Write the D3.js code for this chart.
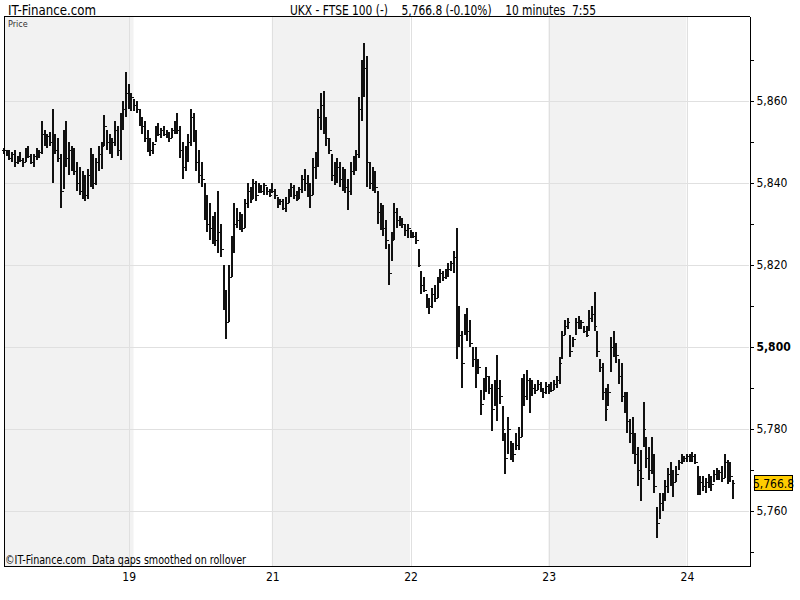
<!DOCTYPE html>
<html>
<head>
<meta charset="utf-8">
<script src="https://cdn.jsdelivr.net/npm/d3@7"></script>
<style>
  body { margin: 0; background: #fff; }
  svg text { font-family: 'Liberation Sans Narrow', 'Arial Narrow', 'DejaVu Sans Condensed', sans-serif; }
</style>
</head>
<body>
<svg id="chart" width="800" height="600"></svg>
<script>
// day labels and the bar index they sit on
const dayLabels = ["19", "21", "22", "23", "24"];
const tickIdx = [46, 99, 150, 201, 252];
// first bar of each session (18, 19, 21, 22, 23, 24)
const dayStarts = [0, 48, 99, 150, 201, 252, 270];
const priceTicks = [5760, 5780, 5800, 5820, 5840, 5860];
const lastPrice = 5766.8;

// 10 minute bars, [high, low, close]
const d18 = [
  [5848.5,5847,5848],[5848,5846.5,5847],[5848,5845.5,5846],[5847.5,5845,5847],[5848,5844,5845],
  [5846.5,5844.5,5846],[5847.5,5845,5845.5],[5846,5844,5845],[5848.5,5845,5848],[5849,5846,5846.5],
  [5847,5844.5,5845],[5847,5844,5846.5],[5848.5,5845.5,5847],[5848,5846,5847.5],[5855,5847,5852],
  [5853,5849,5850],[5852,5848.5,5851.5],[5852.5,5849,5850],[5858,5840,5850.5],[5852,5847,5848],
  [5851,5845,5846],[5847,5834,5838],[5853,5838.5,5850],[5855,5844,5846],[5850,5842,5848],
  [5849,5843,5845],[5848.5,5842,5843],[5845,5838,5840],[5844,5837,5838],[5843,5836,5840],
  [5842,5835.5,5837],[5843.5,5836,5842],[5848.5,5839,5846],[5847,5838.5,5840],[5846,5839.5,5845],
  [5849,5843,5847],[5850,5843.5,5849],[5856.5,5849,5854],[5853,5848,5850],[5852,5847,5849],
  [5851,5846,5850],[5855,5849,5853],[5854,5846.5,5848],[5857,5845.5,5855],[5860,5853,5858],
  [5867,5856,5862],[5864,5858,5860],[5862,5857.5,5861]
];
const d19 = [
  [5860.5,5857.5,5859],[5860,5857,5858],[5858,5854,5855],[5856,5852,5854],[5855,5850,5851],
  [5853,5847.5,5849],[5851,5846.5,5848],[5850,5847,5849.5],[5854,5850,5853],[5854.5,5851.5,5852],
  [5853.5,5851,5853],[5854,5851.5,5852],[5853,5851,5851.5],[5852.5,5850,5851],[5853.5,5851,5853],
  [5855,5852,5854],[5857,5852,5853],[5854,5846,5848],[5850,5841,5844],[5849,5843,5846],
  [5852,5845,5850],[5858,5849,5856],[5857,5850,5852],[5853,5843,5845],[5848,5840,5842],
  [5845,5839,5841],[5840,5831,5833],[5837,5828,5830],[5835,5826,5829],[5832,5825,5827],
  [5833,5824.5,5826],[5838,5823,5828],[5830,5822,5824],[5820,5809,5812],[5814,5802,5806],
  [5820,5806,5817],[5827,5817,5824],[5835,5823,5830],[5834,5829,5831],[5833,5828.5,5832],
  [5832.5,5828,5829],[5836,5829,5835],[5840,5834,5838],[5839,5835,5836],[5841,5836,5840],
  [5840.5,5835.5,5837],[5840,5837.5,5839],[5839.5,5837.5,5838],[5840,5837,5839.5],[5839,5837,5838],
  [5838.5,5836.5,5837]
];
const d21 = [
  [5840,5837.5,5838],[5838.5,5836,5837],[5836.5,5834,5835],[5836,5834.5,5835.5],[5836,5833.5,5834],
  [5836.5,5833,5835],[5838.5,5835,5837.5],[5840,5836.5,5839],[5839.5,5836,5837],[5838,5835.5,5836],
  [5839,5836,5838.5],[5842,5837.5,5841],[5843.5,5838,5840],[5842,5836.5,5838],[5840,5834,5837],
  [5846,5837,5844],[5847.5,5841,5845],[5858,5844,5856],[5862,5853,5859],[5862.5,5852,5855],
  [5856,5849,5851],[5851,5847,5848],[5847,5840.5,5842],[5845,5839.5,5843],[5846,5840,5844],
  [5845,5839,5841],[5844,5838,5842],[5843.5,5837.5,5839],[5841,5833.5,5838],[5845,5837,5843],
  [5846.5,5842,5845],[5848,5843,5847],[5861,5846,5858],[5870,5855,5862],[5874,5861,5868],
  [5871,5839,5845],[5845,5838.5,5840],[5844,5838,5842],[5843,5837.5,5839],[5838,5830,5833],
  [5835,5828.5,5830],[5834.5,5827,5829],[5831,5824,5826],[5825,5815,5818],[5828,5821,5826],
  [5835,5826,5833],[5834,5829,5831],[5832,5829.5,5830.5],[5831.5,5829,5830],[5830,5827,5828.5],
  [5830,5826.5,5829]
];
const d22 = [
  [5828.5,5826.5,5828],[5828,5826.5,5827],[5828,5825,5826],[5824,5819.5,5820],[5818.5,5813,5815],
  [5817,5813.5,5814],[5813,5809.5,5811],[5812,5808,5810],[5814.5,5809.5,5813],[5815,5811,5812],
  [5817,5812,5816],[5819,5815.5,5818],[5818.5,5816,5817],[5819,5816.5,5818.5],[5820.5,5817,5819],
  [5821,5818.5,5820.5],[5823.5,5818,5822],[5829,5797,5802],[5810,5800,5803],[5804,5790,5796],
  [5808,5803,5806],[5809.5,5801.5,5804],[5806.5,5800,5801],[5800,5795,5797],[5800,5790,5794],
  [5797,5793.5,5795],[5789.5,5783.5,5786],[5792.5,5787,5790],[5795,5789,5793],[5793,5788.5,5790],
  [5791,5779.5,5785],[5792,5785.5,5789],[5798,5782,5790],[5792,5786,5788],[5785.5,5777,5780],
  [5779,5769,5773],[5783,5774,5780],[5777,5772.5,5775],[5776.5,5772,5774],[5779,5775,5776],
  [5780.5,5775,5778],[5792.5,5778,5790],[5793.5,5785.5,5788],[5794.5,5787,5792],[5792.5,5784,5789],
  [5792,5788,5790],[5791,5788.5,5789.5],[5792,5789.5,5791],[5791.5,5789,5790],[5790,5787.5,5789],
  [5791.5,5788.5,5790.5]
];
const d23 = [
  [5791,5788.5,5790],[5791.5,5789,5789.5],[5792,5789.5,5791],[5793,5790,5792],[5797.5,5791,5796],
  [5804,5797,5803],[5806.5,5803,5805],[5807,5804.5,5806],[5803,5797.5,5799],[5802.5,5800,5802],
  [5807,5803,5806],[5807.5,5804.5,5805],[5806.5,5804.5,5806],[5805,5803.5,5804],[5805,5802.5,5803],
  [5809,5804,5807],[5810,5806,5808],[5813.5,5804,5805],[5804,5797.5,5799],[5797,5794,5795],
  [5796,5787,5789],[5790,5782,5785],[5791,5785.5,5789],[5802.5,5794,5800],[5804,5797.5,5801],
  [5801,5796,5798],[5797,5791,5793],[5796,5786.5,5788],[5789,5784,5786],[5789,5779,5782],
  [5782.5,5776.5,5779],[5783,5774,5777],[5779,5771.5,5774],[5775.5,5766,5770],[5775,5762.5,5768],
  [5786.5,5775.5,5780],[5778,5770.5,5773],[5775.5,5767.5,5770],[5778,5769,5772],[5774,5764.5,5766],
  [5761,5753.5,5757],[5764.5,5758,5762],[5764.5,5760,5763],[5767.5,5762.5,5766],[5770.5,5764.5,5769],
  [5772,5766,5768],[5770,5763.5,5767],[5771,5767,5769],[5772.5,5770,5772],[5774,5771.5,5773],
  [5773.5,5772,5773]
];
const d24 = [
  [5774,5772,5773.5],[5774,5772,5772.5],[5774.5,5772,5773.5],[5774,5771.5,5772],[5771,5764,5765],
  [5768.5,5764,5767],[5768.5,5765,5766],[5768,5764.5,5767],[5769,5765.5,5768],[5768.5,5765,5766.5],
  [5770,5767,5769],[5770.5,5767.5,5768.5],[5770,5767.5,5769.5],[5771,5767,5768],[5774,5768,5772],
  [5772.5,5766.5,5768],[5772,5767,5768.5],[5767.5,5763,5766.8]
];

const raw = [].concat(d18, d19, d21, d22, d23, d24);
// open of each bar is the close of the bar before
const bars = raw.map((b, i) => ({
  i: i, hi: b[0], lo: b[1], close: b[2], open: i ? raw[i - 1][2] : b[2]
}));

const plotL = 4, plotR = 749, plotT = 16, plotB = 566;
const svg = d3.select('#chart');

const x = d3.scaleLinear().domain([0, 270]).range([plotL, 735.7]);
const y = d3.scaleLinear().domain([5746.6, 5880.7]).range([plotB, plotT]);
const px = v => Math.round(v) + 0.5;

// shaded sessions: 18, 21, 23
[0, 2, 4].forEach(d => {
  const x0 = Math.max(plotL, x(dayStarts[d] - 0.2));
  const x1 = x(dayStarts[d + 1] - 0.2);
  svg.append('rect')
    .attr('x', x0).attr('y', plotT)
    .attr('width', x1 - x0).attr('height', plotB - plotT)
    .attr('fill', '#f2f2f2');
});

// grid
svg.append('g').selectAll('line').data(priceTicks).join('line')
  .attr('x1', plotL).attr('x2', plotR)
  .attr('y1', d => px(y(d))).attr('y2', d => px(y(d)))
  .attr('stroke', '#e0e0e0');
svg.append('g').selectAll('line').data(tickIdx).join('line')
  .attr('x1', d => px(x(d))).attr('x2', d => px(x(d)))
  .attr('y1', plotT).attr('y2', plotB)
  .attr('stroke', '#e0e0e0');

// OHLC bars: 2px stems, 1px open/close ticks
const stems = bars.map(b => {
  const bx = Math.round(x(b.i));
  const yh = Math.round(y(b.hi));
  let yl = Math.round(y(b.lo));
  if (yl - yh < 1) yl = yh + 1;
  return `M${bx},${yh}V${yl}`;
}).join('');
const ticks = bars.map(b => {
  const bx = Math.round(x(b.i));
  const yo = px(y(b.open)), yc = px(y(b.close));
  return `M${bx - 2},${yo}H${bx}M${bx},${yc}H${bx + 2}`;
}).join('');
svg.append('path')
  .attr('d', stems)
  .attr('fill', 'none')
  .attr('stroke', '#111')
  .attr('stroke-width', 2)
  .attr('shape-rendering', 'crispEdges');
svg.append('path')
  .attr('d', ticks)
  .attr('fill', 'none')
  .attr('stroke', '#111')
  .attr('stroke-width', 1)
  .attr('shape-rendering', 'crispEdges');

// frame
svg.append('path')
  .attr('d', `M${plotR + 0.5},${plotT + 0.5}H${plotL + 0.5}V${plotB + 0.5}H${plotR + 0.5}`)
  .attr('fill', 'none').attr('stroke', '#000')
  .attr('shape-rendering', 'crispEdges');

// right price axis, labels on every 20, small ticks every 10
const yAxis = svg.append('g')
  .attr('transform', `translate(${plotR + 0.5},0)`)
  .call(d3.axisRight(y)
    .tickValues(d3.range(5750, 5871, 10))
    .tickSize(4).tickSizeOuter(0).tickPadding(3)
    .tickFormat(v => v % 20 === 0 ? d3.format(',')(v) : ''));
yAxis.selectAll('text')
  .attr('font-size', 12)
  .attr('fill', '#000')
  .attr('font-weight', d => d === 5800 ? 'bold' : 'normal');
yAxis.selectAll('line').attr('stroke', '#000').attr('shape-rendering', 'crispEdges');
yAxis.select('.domain').attr('stroke', '#000').attr('shape-rendering', 'crispEdges');

// day axis
const xAxis = svg.append('g')
  .attr('transform', `translate(0,${plotB})`)
  .call(d3.axisBottom(x).tickValues(tickIdx).tickSize(0).tickPadding(6)
    .tickFormat((d, i) => dayLabels[i]));
xAxis.select('.domain').remove();
xAxis.selectAll('text').attr('font-size', 12).attr('fill', '#000');

// last price box
const ly = y(lastPrice);
svg.append('rect')
  .attr('x', 754.5).attr('y', Math.round(ly) - 7.5)
  .attr('width', 38).attr('height', 15)
  .attr('fill', '#ffcc00').attr('stroke', '#000');
svg.append('text')
  .attr('x', 773.5).attr('y', ly + 4.5)
  .attr('text-anchor', 'middle')
  .attr('font-size', 12)
  .text(d3.format(',.1f')(lastPrice));

// header and notes
svg.append('text')
  .attr('x', 8).attr('y', 15)
  .attr('font-size', 14)
  .attr('textLength', 88)
  .attr('lengthAdjust', 'spacingAndGlyphs')
  .text('IT-Finance.com');
svg.append('text')
  .attr('x', 290).attr('y', 15)
  .attr('font-size', 14)
  .attr('textLength', 306)
  .attr('lengthAdjust', 'spacingAndGlyphs')
  .style('white-space', 'pre')
  .text('UKX - FTSE 100 (-)    5,766.8 (-0.10%)    10 minutes  7:55');

svg.append('text')
  .attr('x', 8).attr('y', 27)
  .attr('font-size', 9).attr('fill', '#333')
  .text('Price');

svg.append('text')
  .attr('x', 5).attr('y', 564)
  .attr('font-size', 12)
  .attr('textLength', 241)
  .attr('lengthAdjust', 'spacingAndGlyphs')
  .style('white-space', 'pre')
  .text('©IT-Finance.com  Data gaps smoothed on rollover');
</script>
</body>
</html>
